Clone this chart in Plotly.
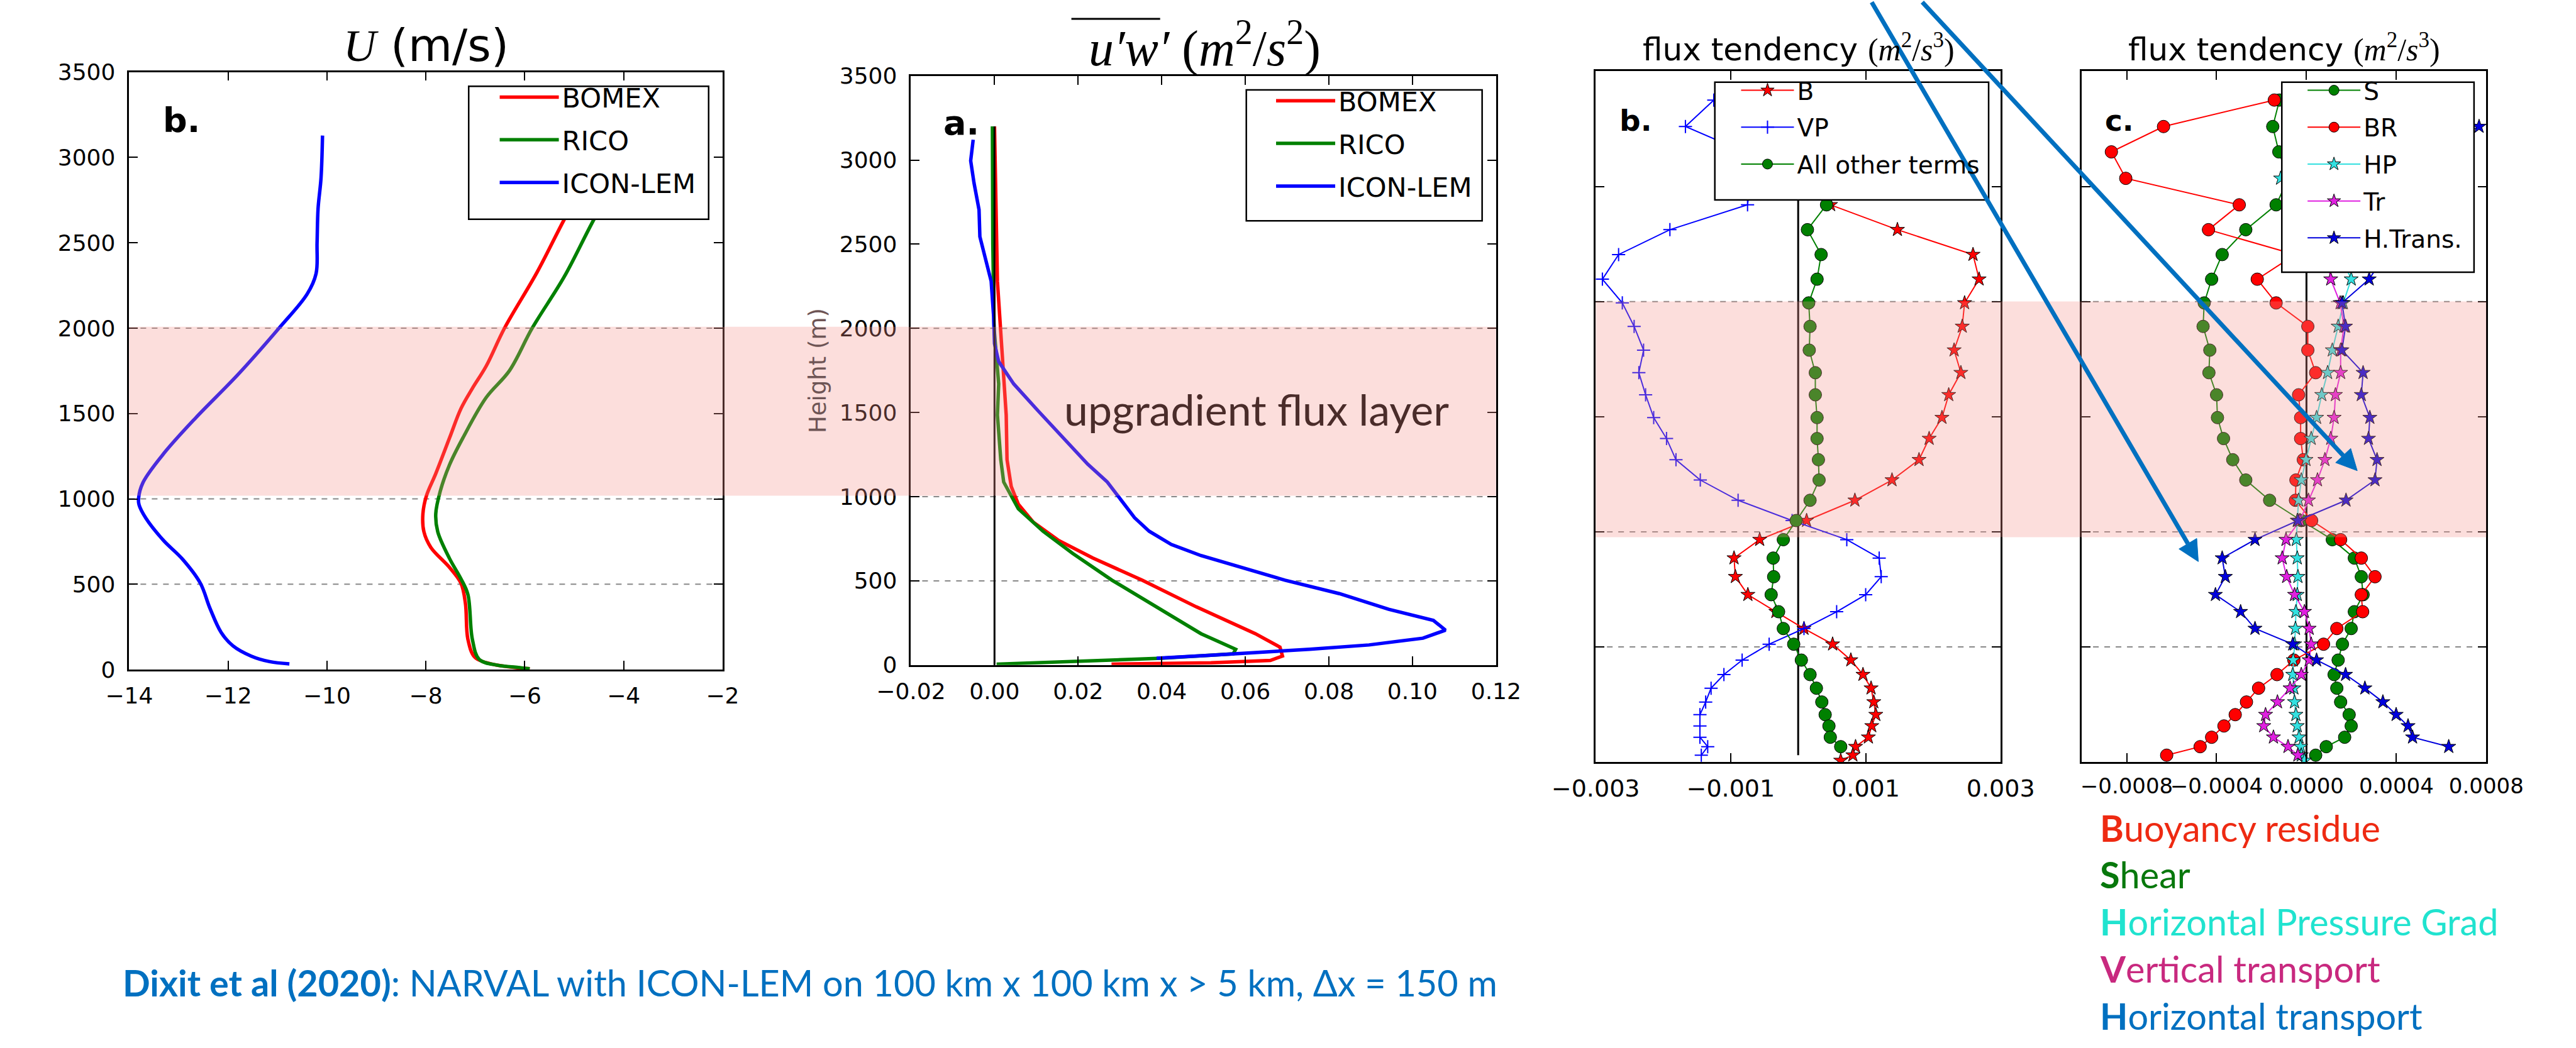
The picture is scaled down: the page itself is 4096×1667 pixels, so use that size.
import math
import plotly.graph_objects as go

# ---------------- data ----------------
height_ticks = [0, 500, 1000, 1500, 2000, 2500, 3000, 3500]
tend_height_ticks = [0, 500, 1000, 1500, 2000, 2500, 3000]
dashed_levels = [500, 1000, 2000]

# Left panel: U (m/s)
u_ticks = [-14, -12, -10, -8, -6, -4, -2]
u_bomex_z = [3150, 2643, 2328, 2000, 1778, 1647, 1529, 1358, 1148, 1017, 912, 808, 716, 598, 506, 388, 178, 73, 34, 16, 5]
u_bomex = [-4.23, -5.19, -5.75, -6.41, -6.78, -7.06, -7.29, -7.52, -7.80, -7.99, -8.06, -8.04, -7.90, -7.52, -7.29, -7.20, -7.15, -7.01, -6.69, -6.31, -5.90]
u_rico_z = [3150, 2643, 2302, 2000, 1751, 1594, 1358, 1201, 1044, 912, 808, 650, 532, 440, 178, 60, 26, 13, 5]
u_rico = [-3.60, -4.59, -5.20, -5.85, -6.31, -6.78, -7.25, -7.52, -7.71, -7.80, -7.76, -7.52, -7.29, -7.15, -7.06, -6.92, -6.55, -6.13, -5.90]
u_icon_z = [3128, 2880, 2700, 2500, 2320, 2200, 2000, 1725, 1476, 1266, 1096, 1004, 965, 886, 755, 650, 506, 362, 218, 139, 79, 47, 34]
u_icon = [-10.09, -10.12, -10.18, -10.20, -10.22, -10.40, -10.97, -11.81, -12.65, -13.30, -13.72, -13.81, -13.80, -13.66, -13.30, -12.93, -12.56, -12.37, -12.14, -11.90, -11.53, -11.16, -10.76]

# Second panel: u'w' (m2/s2)
uw_ticks = [-0.02, 0.0, 0.02, 0.04, 0.06, 0.08, 0.10, 0.12]
uw_bomex_z = [3200, 2600, 2280, 2015, 1750, 1485, 1220, 1061, 955, 848, 742, 636, 504, 345, 186, 106, 53, 27, 13, 5]
uw_bomex = [0.0000, 0.0004, 0.0007, 0.0014, 0.0022, 0.0028, 0.0030, 0.0040, 0.0057, 0.0093, 0.0152, 0.0235, 0.0353, 0.0483, 0.0624, 0.0683, 0.0689, 0.0660, 0.0518, 0.0280]
uw_rico_z = [3200, 2500, 2000, 1670, 1485, 1220, 1087, 928, 795, 663, 504, 345, 186, 93, 66, 40, 21, 5]
uw_rico = [-0.0005, -0.0004, -0.0001, 0.0010, 0.0007, 0.0015, 0.0022, 0.0057, 0.0116, 0.0187, 0.0281, 0.0388, 0.0494, 0.0577, 0.0571, 0.0400, 0.0163, 0.0005]
uw_icon_z = [3121, 2996, 2864, 2705, 2545, 2386, 2280, 2068, 1909, 1803, 1670, 1511, 1352, 1193, 1087, 994, 875, 795, 716, 650, 583, 504, 424, 331, 265, 207, 159, 119, 93, 74, 58, 40]
uw_icon = [-0.0051, -0.0057, -0.0049, -0.0037, -0.0035, -0.0019, -0.0008, -0.0002, 0.0000, 0.0010, 0.0046, 0.0104, 0.0164, 0.0223, 0.0270, 0.0299, 0.0335, 0.0370, 0.0423, 0.0494, 0.0589, 0.0695, 0.0825, 0.0943, 0.1050, 0.1079, 0.1025, 0.0896, 0.0754, 0.0636, 0.0518, 0.0388]
uw_zero_z = [0, 3200]
zero_x = [0, 0]

# Flux-tendency panels: shared model levels (m)
tend_z = [2875, 2760, 2650, 2535, 2420, 2312, 2204, 2097, 1994, 1892, 1789, 1691, 1595, 1496,
          1405, 1313, 1225, 1137, 1049, 966, 886, 805, 727, 653, 580, 512, 443, 380, 321, 261,
          206, 157, 108, 67, 30, 7]
tend_zero_z_b = [30, 2950]
tend_zero_z_c = [0, 2950]

# Panel "b." flux tendency (m2/s3)
tb_ticks = [-0.003, -0.001, 0.001, 0.003]
b_term = [None, None, None, 4.5e-4, 4.8e-4, 1.47e-3, 2.59e-3, 2.68e-3, 2.465e-3, 2.43e-3, 2.31e-3, 2.41e-3,
          2.23e-3, 2.13e-3, 1.94e-3, 1.79e-3, 1.39e-3, 8.4e-4, 1.25e-4, -5.7e-4, -9.5e-4, -9.3e-4, -7.45e-4,
          -3.3e-4, 8.6e-5, 5.1e-4, 7.8e-4, 9.6e-4, 1.08e-3, 1.12e-3, 1.15e-3, 1.09e-3, 1.04e-3, 8.5e-4,
          8.1e-4, 6.3e-4]
vp_term = [-1.25e-3, -1.67e-3, -8.0e-4, -7.0e-4, -7.5e-4, -1.90e-3, -2.66e-3, -2.90e-3, -2.605e-3, -2.43e-3,
           -2.29e-3, -2.36e-3, -2.26e-3, -2.14e-3, -1.95e-3, -1.81e-3, -1.45e-3, -8.9e-4, -9.0e-5, 7.2e-4,
           1.20e-3, 1.23e-3, 1.00e-3, 5.7e-4, 8.6e-5, -4.3e-4, -8.3e-4, -1.10e-3, -1.29e-3, -1.37e-3,
           -1.455e-3, -1.455e-3, -1.455e-3, -1.34e-3, -1.435e-3, None]
other_terms = [None, None, None, 4.5e-4, 4.2e-4, 1.37e-4, 3.4e-4, 2.8e-4, 1.56e-4, 1.76e-4, 1.64e-4, 2.54e-4,
               2.54e-4, 2.8e-4, 2.8e-4, 3.0e-4, 3.1e-4, 1.76e-4, -3.0e-5, -2.2e-4, -3.7e-4, -3.63e-4, -4.0e-4,
               -2.9e-4, -2.2e-4, -6.6e-5, 4.7e-5, 1.76e-4, 2.7e-4, 3.5e-4, 4.0e-4, 4.56e-4, 4.76e-4, 6.3e-4,
               None, None]

# Panel "c." flux tendency (m2/s3)
tc_ticks = [-0.0008, -0.0004, 0.0, 0.0004, 0.0008]
s_term = [-1.2e-4, -1.5e-4, -1.23e-4, -8.0e-5, -1.35e-4, -2.7e-4, -3.75e-4, -4.22e-4, -4.55e-4, -4.6e-4,
          -4.3e-4, -4.34e-4, -4.0e-4, -3.96e-4, -3.69e-4, -3.28e-4, -2.7e-4, -1.64e-4, -2.3e-5, 1.15e-4,
          2.13e-4, 2.44e-4, 2.52e-4, 2.13e-4, 1.99e-4, 1.6e-4, 1.41e-4, 1.23e-4, 1.35e-4, 1.52e-4,
          1.9e-4, 1.99e-4, 1.7e-4, 8.8e-5, 4.1e-5, None]
br_term = [-1.43e-4, -6.36e-4, -8.68e-4, -8.04e-4, -2.99e-4, -4.36e-4, -5.0e-5, -2.19e-4, -1.35e-4, 6e-6,
           6e-6, 4.1e-5, -3.5e-5, -2.6e-5, -2.6e-5, -1.4e-5, -4.7e-5, -4.9e-5, 2.3e-5, 1.52e-4,
           2.44e-4, 3.05e-4, 2.44e-4, 2.5e-4, 1.35e-4, 7.6e-5, -5.6e-5, -1.31e-4, -2.13e-4, -2.67e-4,
           -3.17e-4, -3.67e-4, -4.22e-4, -4.73e-4, -6.22e-4, None]
hp_term = [None, None, None, -1.15e-4, -5.0e-5, 5.0e-5, 1.5e-4, 1.99e-4, 1.64e-4, 1.41e-4, 1.15e-4, 9.4e-5,
           6.8e-5, 4.5e-5, 2.1e-5, -2e-6, -2.3e-5, -3.5e-5, -4.1e-5, -4.5e-5, -4.1e-5, -3.8e-5, -4.1e-5,
           -4.7e-5, -4.9e-5, -5.3e-5, -5.9e-5, -6.1e-5, -5.6e-5, -5.3e-5, -4.7e-5, -4.1e-5, -3.3e-5,
           -2.6e-5, -2.3e-5, -9e-6]
tr_term = [None, None, None, None, None, None, 9.0e-5, 1.08e-4, 1.5e-4, 1.67e-4, 1.52e-4, 1.52e-4, 1.29e-4,
           1.23e-4, 1.08e-4, 8.2e-5, 4.9e-5, 9e-6, -2.9e-5, -9.1e-5, -1.08e-4, -8.8e-5, -5.3e-5, -9e-6,
           1.2e-5, 2.1e-5, 1.2e-5, -2.3e-5, -7.3e-5, -1.29e-4, -1.82e-4, -1.9e-4, -1.47e-4, -8.2e-5,
           -3.8e-5, None]
htrans_term = [None, 7.68e-4, 5.5e-4, 4.0e-4, 3.5e-4, 3.5e-4, 3.5e-4, 2.79e-4, 1.58e-4, 1.74e-4, 1.58e-4,
               2.52e-4, 2.44e-4, 2.82e-4, 2.76e-4, 3.14e-4, 3.05e-4, 1.76e-4, -3.8e-5, -2.29e-4, -3.75e-4,
               -3.61e-4, -4.05e-4, -2.93e-4, -2.29e-4, -6.1e-5, 4.5e-5, 1.74e-4, 2.6e-4, 3.4e-4, 3.99e-4,
               4.52e-4, 4.72e-4, 6.33e-4, None, None]

# ---------------- geometry helpers (reference pixels -> paper) ----------------
RW, RH = 4835.0, 1968.0
W, H = 4096, 1667
S = W / RW


def px(x):
    return x / RW


def py(y):
    return 1 - y / RH


FONT = "DejaVu Sans"
SERIF = "Liberation Serif"
BAND = "rgba(245,145,138,0.30)"
ARROW = "rgb(0,112,192)"

fig = go.Figure()


def lines(x, y, name, color, xa, ya, leg, width=5.5, shape="linear", showlegend=True):
    return go.Scatter(x=x, y=y, mode="lines", name=name, xaxis=xa, yaxis=ya, legend=leg,
                      legendgroup=name + xa, showlegend=showlegend,
                      line=dict(color=color, width=width, shape=shape))


def markers(x, y, name, color, xa, ya, leg, symbol, size, cross=False):
    return go.Scatter(x=x, y=y, mode="lines+markers", name=name, xaxis=xa, yaxis=ya, legend=leg,
                      legendgroup=name + xa,
                      line=dict(color=color, width=2),
                      marker=dict(symbol=symbol, size=size, color=color,
                                  line=dict(color=color if cross else "black", width=2 if cross else 1)))


# panel 1
fig.add_trace(lines(u_bomex, u_bomex_z, "BOMEX", "#ff0000", "x", "y", "legend", shape="spline"))
fig.add_trace(lines(u_rico, u_rico_z, "RICO", "#008000", "x", "y", "legend", shape="spline"))
fig.add_trace(lines(u_icon, u_icon_z, "ICON-LEM", "#0000ff", "x", "y", "legend", shape="spline"))
# panel 2
fig.add_trace(lines(uw_bomex, uw_bomex_z, "BOMEX", "#ff0000", "x2", "y2", "legend2"))
fig.add_trace(lines(uw_rico, uw_rico_z, "RICO", "#008000", "x2", "y2", "legend2"))
fig.add_trace(lines(uw_icon, uw_icon_z, "ICON-LEM", "#0000ff", "x2", "y2", "legend2"))
fig.add_trace(lines(zero_x, uw_zero_z, "zero", "black", "x2", "y2", "legend2", width=3, showlegend=False))
# panel 3
fig.add_trace(lines(zero_x, tend_zero_z_b, "zero", "black", "x3", "y3", "legend3", width=3, showlegend=False))
fig.add_trace(markers(b_term, tend_z, "B", "#ff0000", "x3", "y3", "legend3", "star", 17))
fig.add_trace(markers(vp_term, tend_z, "VP", "#0000ff", "x3", "y3", "legend3", "cross-thin", 15, cross=True))
fig.add_trace(markers(other_terms, tend_z, "All other terms", "#008000", "x3", "y3", "legend3", "circle", 20))
# panel 4
fig.add_trace(lines(zero_x, tend_zero_z_c, "zero", "black", "x4", "y4", "legend4", width=3, showlegend=False))
fig.add_trace(markers(s_term, tend_z, "S", "#008000", "x4", "y4", "legend4", "circle", 20))
fig.add_trace(markers(br_term, tend_z, "BR", "#ff0000", "x4", "y4", "legend4", "circle", 20))
fig.add_trace(markers(hp_term, tend_z, "HP", "#33e0e0", "x4", "y4", "legend4", "star", 17))
fig.add_trace(markers(tr_term, tend_z, "Tr", "#e020e0", "x4", "y4", "legend4", "star", 17))
fig.add_trace(markers(htrans_term, tend_z, "H.Trans.", "#0000dd", "x4", "y4", "legend4", "star", 17))

axis_common = dict(showgrid=False, zeroline=False, showline=True, linecolor="black", linewidth=2.5,
                   mirror="allticks", ticks="inside", ticklen=14, tickwidth=2, tickcolor="black",
                   tickangle=0)

layout = dict(
    width=W, height=H, autosize=False,
    margin=dict(l=0, r=0, t=0, b=0, pad=0),
    paper_bgcolor="white", plot_bgcolor="white",
    font=dict(family=FONT, color="black"),
    xaxis=dict(domain=[px(165), px(1315)], range=[-14, -2], anchor="y", tickvals=u_ticks,
               tickfont=dict(family=FONT, size=36), ticklabelstandoff=8, **axis_common),
    yaxis=dict(domain=[py(1265), py(114.5)], range=[0, 3500], anchor="x", tickvals=height_ticks,
               tickfont=dict(family=FONT, size=36), ticklabelstandoff=12, **axis_common),
    xaxis2=dict(domain=[px(1680), px(2814)], range=[-0.02, 0.12], anchor="y2", tickvals=uw_ticks,
                tickformat=".2f", tickfont=dict(family=FONT, size=36), ticklabelstandoff=8, **axis_common),
    yaxis2=dict(domain=[py(1256), py(122)], range=[0, 3500], anchor="x2", tickvals=height_ticks,
                tickfont=dict(family=FONT, size=36), ticklabelstandoff=12, **axis_common),
    xaxis3=dict(domain=[px(3007), px(3792)], range=[-0.003, 0.003], anchor="y3", tickvals=tb_ticks,
                tickformat=".3f", tickfont=dict(family=FONT, size=38), ticklabelstandoff=6, **axis_common),
    yaxis3=dict(domain=[py(1443), py(113)], range=[0, 3000], anchor="x3", tickvals=tend_height_ticks,
                showticklabels=False, **axis_common),
    xaxis4=dict(domain=[px(3949), px(4733)], range=[-0.001, 0.0008], anchor="y4", tickvals=tc_ticks,
                tickformat=".4f", tickfont=dict(family=FONT, size=34), ticklabelstandoff=6, **axis_common),
    yaxis4=dict(domain=[py(1443), py(113)], range=[0, 3000], anchor="x4", tickvals=tend_height_ticks,
                showticklabels=False, **axis_common),
)


def legend_cfg(xref, ytop, size, itemwidth, gap):
    return dict(x=px(xref), y=py(ytop), xanchor="left", yanchor="top", bgcolor="rgba(0,0,0,0)",
                borderwidth=0, font=dict(family=FONT, size=size, color="black"),
                itemwidth=itemwidth, tracegroupgap=gap, traceorder="grouped")


layout["legend"] = legend_cfg(877, 121, 43, 94, 9)
layout["legend2"] = legend_cfg(2381.6, 128, 43, 94, 9)
layout["legend3"] = legend_cfg(3282.8, 111, 39, 84, 5)
layout["legend4"] = legend_cfg(4380.6, 111, 39, 84, 5)

shapes = []
# dashed reference heights
for xa, ya in [("x", "y"), ("x2", "y2"), ("x3", "y3"), ("x4", "y4")]:
    for lev in dashed_levels:
        shapes.append(dict(type="line", xref=xa + " domain", x0=0, x1=1, yref=ya, y0=lev, y1=lev,
                           line=dict(color="#888888", width=2, dash="dash"), layer="below"))
# translucent "upgradient flux layer" bands
shapes.append(dict(type="rect", xref="paper", yref="paper", x0=px(165), x1=px(2814), y0=py(930), y1=py(605),
                   fillcolor=BAND, line=dict(width=0), layer="above"))
shapes.append(dict(type="rect", xref="paper", yref="paper", x0=px(3007), x1=px(4733), y0=py(1010), y1=py(556),
                   fillcolor=BAND, line=dict(width=0), layer="above"))
# legend frames
for (x0, y0, x1, y1) in [(823, 142, 1288, 398), (2330, 149, 2787, 401),
                         (3238, 134, 3768.6, 360.7), (4336.8, 134, 4709.3, 500)]:
    shapes.append(dict(type="rect", xref="paper", yref="paper", x0=px(x0), x1=px(x1), y0=py(y1), y1=py(y0),
                       fillcolor="white", line=dict(color="black", width=2.5), layer="above"))
# overbar of u'w'
shapes.append(dict(type="line", xref="paper", yref="paper", x0=px(1991), x1=px(2163), y0=py(12), y1=py(12),
                   line=dict(color="black", width=3)))


# blue pointer arrows (tail above the top edge)
def arrow(sx, sy, tx, ty, head_len=40, head_half=20):
    dx, dy = tx - sx, ty - sy
    n = math.hypot(dx, dy)
    ux, uy = dx / n, dy / n
    bx, by = tx - head_len * ux, ty - head_len * uy
    nx, ny = -uy, ux
    out = [dict(type="line", xref="paper", yref="paper", x0=px(sx), y0=py(sy), x1=px(bx), y1=py(by),
                line=dict(color=ARROW, width=7), layer="above")]
    path = "M {},{} L {},{} L {},{} Z".format(
        px(tx), py(ty), px(bx + head_half * nx), py(by + head_half * ny),
        px(bx - head_half * nx), py(by - head_half * ny))
    out.append(dict(type="path", xref="paper", yref="paper", path=path, fillcolor=ARROW,
                    line=dict(color=ARROW, width=1), layer="above"))
    return out


shapes += arrow(3542, -20, 4175, 1057)
shapes += arrow(3640, -20, 4483, 882)
layout["shapes"] = shapes


def note(text, x, y, size, family=FONT, color="black", xanchor="left", yanchor="middle", angle=0):
    return dict(text=text, x=px(x), y=py(y), xref="paper", yref="paper", showarrow=False,
                xanchor=xanchor, yanchor=yanchor, textangle=angle,
                font=dict(family=family, size=size, color=color))


mathm = "<span style='font-family:Liberation Serif'>(<i>m</i><sup>2</sup>/<i>s</i><sup>3</sup>)</span>"
ann = [
    note("<span style='font-family:Liberation Serif'><i>U</i></span> (m/s)", 740, 63, 72, xanchor="center"),
    note("<i>u′w′</i> (<i>m</i><sup>2</sup>/<i>s</i><sup>2</sup>)", 2249, 62, 80, family=SERIF, xanchor="center"),
    note("flux tendency " + mathm, 3400, 68, 50, xanchor="center"),
    note("flux tendency " + mathm, 4341, 68, 50, xanchor="center"),
    note("<b>b.</b>", 228, 207, 54),
    note("<b>a.</b>", 1740, 212, 54),
    note("<b>b.</b>", 3051, 208, 47),
    note("<b>c.</b>", 3991, 208, 47),
    note("Height (m)", 1500, 689, 37, color="rgb(110,85,85)", xanchor="center", angle=-90),
    note("upgradient flux layer", 1974, 762.7, 68, family="Lato", color="rgb(74,44,42)"),
    note("<b>Dixit et al (2020)</b>: NARVAL with ICON-LEM on 100 km x 100 km x &gt; 5 km, Δx = 150 m",
         150, 1866.5, 57.6, family="Lato", color="#0070c0"),
    note("<b>B</b>uoyancy residue", 3982, 1568.6, 57.6, family="Lato", color="#ee2a12"),
    note("<b>S</b>hear", 3982, 1658.4, 57.6, family="Lato", color="#08780c"),
    note("<b>H</b>orizontal Pressure Grad", 3982, 1749.3, 57.6, family="Lato", color="#20e3cf"),
    note("<b>V</b>ertical transport", 3982, 1840.3, 57.6, family="Lato", color="#c8297f"),
    note("<b>H</b>orizontal transport", 3982, 1931, 57.6, family="Lato", color="#0070c0"),
]
layout["annotations"] = ann

fig.update_layout(**layout)
fig.write_html("out.html")
